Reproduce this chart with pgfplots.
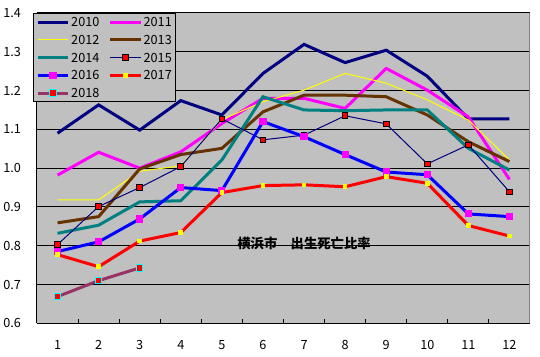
\documentclass[border=0pt]{standalone}
\usepackage{pgfplots}
\pgfplotsset{compat=1.18}
\usepackage{fontspec}
\setmainfont{Noto Sans CJK JP}
\definecolor{bg}{HTML}{C0C0C0}
\definecolor{c2010}{HTML}{000080}
\definecolor{c2011}{HTML}{FF00FF}
\definecolor{c2012}{HTML}{FFFF00}
\definecolor{c2013}{HTML}{663300}
\definecolor{c2014}{HTML}{008080}
\definecolor{c2016}{HTML}{0000FF}
\definecolor{c2017}{HTML}{FF0000}
\definecolor{c2018}{HTML}{993366}
\definecolor{cyanb}{HTML}{00FFFF}
\begin{document}
\begin{tikzpicture}
\useasboundingbox[fill=white] (0pt,0pt) rectangle (405pt,267.75pt);
\begin{axis}[
  at={(27.75pt,25.25pt)}, anchor=south west,
  scale only axis, width=369.75pt, height=232.8pt,
  xmin=0.5, xmax=12.5, ymin=0.6, ymax=1.4,
  axis background/.style={fill=bg},
  axis lines=left, axis line style={-, black, line width=0.75pt},
  xtick={1,2,3,4,5,6,7,8,9,10,11,12},
  minor xtick={1.5,2.5,3.5,4.5,5.5,6.5,7.5,8.5,9.5,10.5,11.5},
  ytick={0.6,0.7,0.8,0.9,1.0,1.1,1.2,1.3,1.4},
  major tick length=0pt, minor tick length=3pt, tick align=inside,
  minor tick style={black, line width=0.75pt},
  ymajorgrids, grid style={black, line width=0.75pt},
  /pgf/number format/assume math mode=true,
  yticklabel style={/pgf/number format/fixed, /pgf/number format/fixed zerofill, /pgf/number format/precision=1},
  ticklabel style={font=\fontsize{9.5}{11}\selectfont},
  xticklabel style={yshift=-9pt},
  yticklabel style={xshift=-8.5pt},
  legend columns=2,
  legend cell align=left,
  legend style={at={(axis description cs:-0.008,1.0)}, anchor=north west,
    fill=bg, draw=black, line width=0.75pt, inner sep=2pt,
    font=\fontsize{9.5}{11}\selectfont,
    nodes={inner sep=1pt, text height=7pt, text depth=0pt},
    row sep=4.3pt,
    /tikz/every even column/.append style={column sep=6pt}},
  legend image code/.code={\draw[mark repeat=2,mark phase=2] plot coordinates {(0pt,0pt)(11.5pt,0pt)(23pt,0pt)};},
]
\addplot[c2010, line width=2.25pt] table {
x y
1 1.090
2 1.163
3 1.098
4 1.174
5 1.137
6 1.244
7 1.319
8 1.272
9 1.304
10 1.237
11 1.127
12 1.127
};
\addlegendentry{2010}
\addplot[c2011, line width=2.25pt] table {
x y
1 0.982
2 1.041
3 1.000
4 1.042
5 1.115
6 1.180
7 1.180
8 1.154
9 1.257
10 1.201
11 1.132
12 0.971
};
\addlegendentry{2011}
\addplot[c2012, line width=0.75pt] table {
x y
1 0.918
2 0.918
3 0.992
4 1.006
5 1.125
6 1.171
7 1.201
8 1.244
9 1.219
10 1.176
11 1.124
12 1.021
};
\addlegendentry{2012}
\addplot[c2013, line width=2.25pt] table {
x y
1 0.859
2 0.875
3 0.998
4 1.035
5 1.051
6 1.145
7 1.188
8 1.188
9 1.184
10 1.137
11 1.068
12 1.017
};
\addlegendentry{2013}
\addplot[c2014, line width=2.25pt] table {
x y
1 0.832
2 0.853
3 0.913
4 0.916
5 1.021
6 1.184
7 1.150
8 1.148
9 1.150
10 1.150
11 1.051
12 0.995
};
\addlegendentry{2014}
\addplot[c2010, line width=0.75pt, mark=square*, mark size=2.1pt,
  mark options={fill=red, draw=black, line width=0.75pt}] table {
x y
1 0.803
2 0.901
3 0.950
4 1.004
5 1.127
6 1.073
7 1.085
8 1.135
9 1.114
10 1.011
11 1.060
12 0.939
};
\addlegendentry{2015}
\addplot[c2016, line width=2.25pt, mark=square*, mark size=2.3pt,
  mark options={fill=c2011, draw=c2011, line width=0pt}] table {
x y
1 0.785
2 0.810
3 0.869
4 0.950
5 0.942
6 1.120
7 1.081
8 1.035
9 0.990
10 0.983
11 0.882
12 0.875
};
\addlegendentry{2016}
\addplot[c2017, line width=2.25pt, mark=square*, mark size=1.35pt,
  mark options={fill=c2012, draw=c2012, line width=0pt}] table {
x y
1 0.777
2 0.746
3 0.812
4 0.834
5 0.937
6 0.955
7 0.957
8 0.952
9 0.978
10 0.961
11 0.852
12 0.825
};
\addlegendentry{2017}
\addplot[c2018, line width=2.25pt, mark=square*, mark size=2.4pt,
  mark options={fill=red, draw=cyanb, line width=0.75pt}] table {
x y
1 0.669
2 0.710
3 0.743
};
\addlegendentry{2018}
\node[font=\bfseries\fontsize{10}{12}\selectfont] at (axis cs:7,0.807) {横浜市　出生死亡比率};
\draw[gray, line width=0.75pt] (rel axis cs:1,0) -- (rel axis cs:1,1);
\end{axis}
\end{tikzpicture}
\end{document}
